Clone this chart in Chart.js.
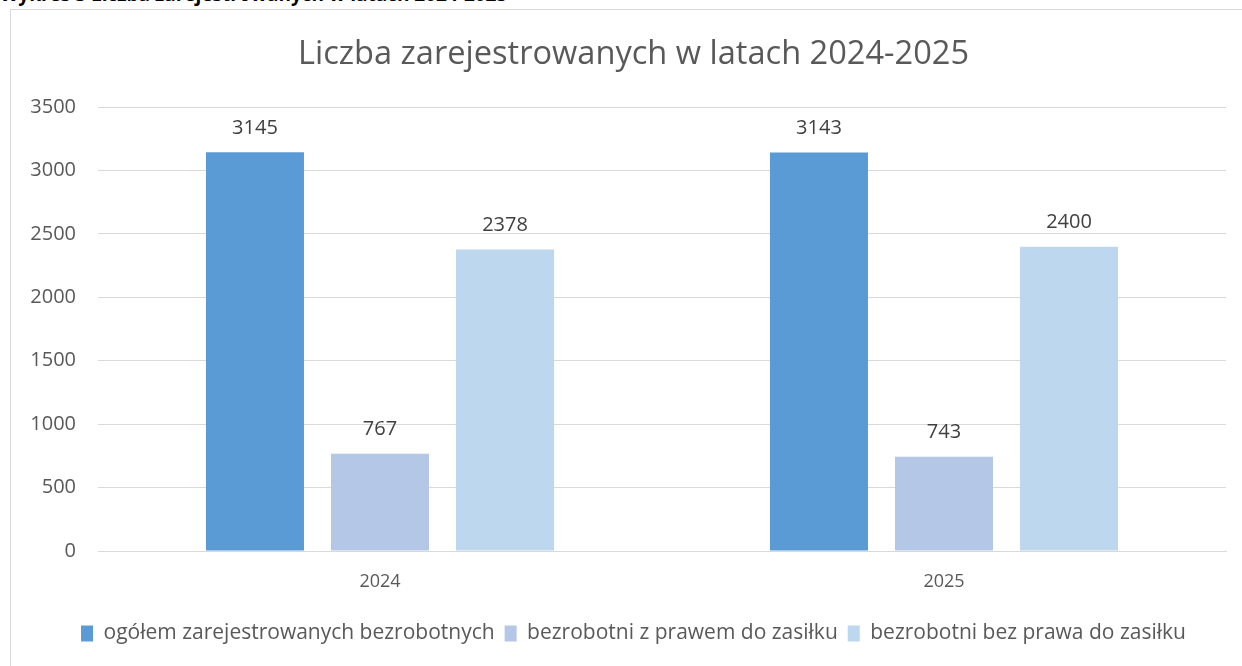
<!DOCTYPE html>
<html>
<head>
<meta charset="utf-8">
<script src="https://cdn.jsdelivr.net/npm/chart.js@4"></script>
<style>
  body { margin: 0; background: #fff; width: 1242px; height: 666px; overflow: hidden; position: relative; font-family: "Open Sans", sans-serif; }
  #caption { position: absolute; left: 0; top: -19px; font-size: 19px; font-weight: bold; color: #000; white-space: nowrap; line-height: 26px; }
  #frame { position: absolute; left: 10px; top: 9px; width: 1250px; height: 670px; border: 1px solid #d9d9d9; box-sizing: border-box; background: #fff; }
  #wrap { position: absolute; left: 11px; top: 10px; width: 1245px; height: 656px; }
</style>
</head>
<body>
<div id="caption">Wykres 3 Liczba zarejestrowanych w latach 2024-2025</div>
<div id="frame"></div>
<div id="wrap"><canvas id="chart"></canvas></div>
<script>
// data
const years = ['2024', '2025'];
const ogolem = [3145, 3143];
const zPrawem = [767, 743];
const bezPrawa = [2378, 2400];
const seriesNames = ['ogółem zarejestrowanych bezrobotnych', 'bezrobotni z prawem do zasiłku', 'bezrobotni bez prawa do zasiłku'];
const yTicks = [0, 500, 1000, 1500, 2000, 2500, 3000, 3500];

const colors = ['#5B9BD5', '#B4C7E7', '#BDD7EE'];
const textColor = '#595959';

// value labels above bars
const valueLabels = {
    id: 'valueLabels',
    afterDatasetsDraw(chart) {
        const ctx = chart.ctx;
        ctx.save();
        ctx.font = '20px "Open Sans"';
        ctx.fillStyle = '#404040';
        ctx.textAlign = 'center';
        ctx.textBaseline = 'middle';
        chart.data.datasets.forEach(function(ds, i) {
            chart.getDatasetMeta(i).data.forEach(function(bar, j) {
                ctx.fillText(ds.data[j], bar.x, bar.y - 24);
            });
        });
        ctx.restore();
    }
};

new Chart(document.getElementById('chart'), {
    type: 'bar',
    data: {
        labels: years,
        datasets: [
            { label: seriesNames[0], data: ogolem, backgroundColor: colors[0] },
            { label: seriesNames[1], data: zPrawem, backgroundColor: colors[1] },
            { label: seriesNames[2], data: bezPrawa, backgroundColor: colors[2] }
        ]
    },
    options: {
        responsive: true,
        maintainAspectRatio: false,
        animation: false,
        layout: { padding: { left: 0, right: 0, top: 0, bottom: 12 } },
        datasets: {
            bar: { categoryPercentage: 0.665, barPercentage: 0.784 }
        },
        plugins: {
            title: {
                display: true,
                text: 'Liczba zarejestrowanych w latach 2024-2025',
                color: textColor,
                font: { family: 'Open Sans', size: 32.6, weight: 'normal' },
                padding: { top: 25, bottom: 33 }
            },
            legend: {
                position: 'bottom',
                labels: {
                    color: textColor,
                    font: { family: 'Open Sans', size: 21 },
                    boxWidth: 12,
                    boxHeight: 16,
                    padding: 10
                }
            },
            tooltip: { enabled: false }
        },
        scales: {
            x: {
                grid: { display: false },
                border: { color: '#d9d9d9' },
                ticks: { color: textColor, font: { family: 'Open Sans', size: 18 }, padding: 12 },
                afterFit: function(scale) { scale.height = 62; }
            },
            y: {
                min: 0,
                max: 3500,
                afterBuildTicks: function(scale) { scale.ticks = yTicks.map(function(v) { return { value: v }; }); },
                grid: { color: '#d9d9d9', drawTicks: false },
                border: { display: false },
                ticks: {
                    color: textColor,
                    font: { family: 'Open Sans', size: 20 },
                    padding: 22,
                    callback: function(v) { return String(v); }
                },
                afterFit: function(scale) { scale.width = 87; }
            },
            // empty right-hand spacer so the title stays centred on the whole frame
            spacer: {
                type: 'linear',
                position: 'right',
                grid: { display: false },
                border: { display: false },
                ticks: { display: false },
                afterFit: function(scale) { scale.width = 30; }
            }
        }
    },
    plugins: [valueLabels]
});
</script>
</body>
</html>
